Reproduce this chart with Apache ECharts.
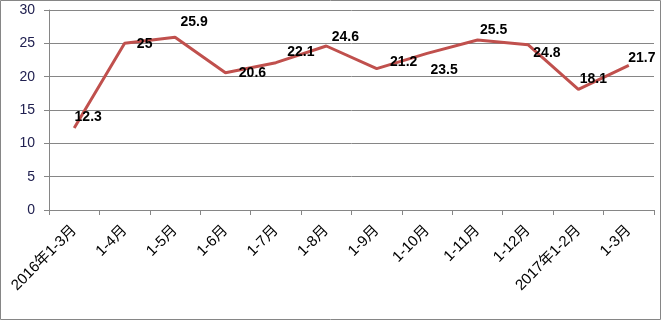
<!DOCTYPE html>
<html>
<head>
<meta charset="utf-8">
<script src="https://cdn.jsdelivr.net/npm/echarts@6/dist/echarts.min.js"></script>
<style>html,body{margin:0;padding:0;background:#fff;}#c{width:661px;height:320px;}</style>
</head>
<body>
<div id="c"></div>
<script>
var categories = ['2016年1-3月','1-4月','1-5月','1-6月','1-7月','1-8月','1-9月','1-10月','1-11月','1-12月','2017年1-2月','1-3月'];
var values = [12.3, 25, 25.9, 20.6, 22.1, 24.6, 21.2, 23.5, 25.5, 24.8, 18.1, 21.7];
var yTicks = [0, 5, 10, 15, 20, 25, 30];
var labelOffsets = [[14,-11],[20,1],[19,-15],[27,0],[25,-11],[19,-9],[27,-7],[17,17],[16,-10],[19,8],[15,-10],[13,-7]];

var chart = echarts.init(document.getElementById('c'), null, {renderer:'canvas'});
var data = values.map(function(v, i){
  return {value: v, label: {offset: labelOffsets[i]}};
});
chart.setOption({
  animation: false,
  grid: {left: 49, right: 7, top: 10, bottom: 110, containLabel: false},
  xAxis: {
    type: 'category',
    data: categories,
    boundaryGap: true,
    axisLine: {show: true, lineStyle: {color: '#868686', width: 1}},
    axisTick: {show: true, length: 5, lineStyle: {color: '#868686'}},
    axisLabel: {rotate: 45, margin: 18, color: '#000', fontSize: 15, fontFamily: 'Liberation Sans, Noto Sans CJK SC', interval: 0}
  },
  yAxis: {
    type: 'value',
    min: yTicks[0], max: yTicks[yTicks.length-1], interval: 5,
    axisLine: {show: true, lineStyle: {color: '#868686', width: 1}},
    axisTick: {show: true, length: 5, lineStyle: {color: '#868686'}},
    axisLabel: {margin: 14, color: '#202050', fontSize: 14, fontFamily: 'Liberation Sans'},
    splitLine: {show: true, lineStyle: {color: '#868686', width: 1}}
  },
  series: [{
    type: 'line',
    data: data,
    symbol: 'circle',
    symbolSize: 1,
    showSymbol: true,
    itemStyle: {color: 'rgba(0,0,0,0)'},
    lineStyle: {color: '#C0504D', width: 3},
    label: {show: true, position: 'inside', color: '#000', fontWeight: 'bold', fontSize: 14, fontFamily: 'Liberation Sans'}
  }],
  graphic: [{
    type: 'rect', silent: true, z: 100,
    shape: {x: 0.5, y: 0.5, width: 660, height: 319},
    style: {fill: 'none', stroke: '#868686', lineWidth: 1}
  }]
});
</script>
</body>
</html>
